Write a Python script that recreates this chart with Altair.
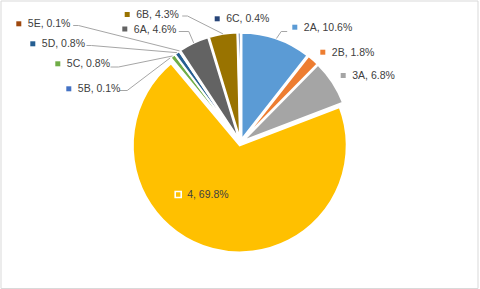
import math
import pandas as pd
import altair as alt

# ---- data ----
categories = ["2A", "2B", "3A", "4", "5B", "5C", "5D", "5E", "6A", "6B", "6C"]
shares = [10.6, 1.8, 6.8, 69.8, 0.1, 0.8, 0.8, 0.1, 4.6, 4.3, 0.4]
colors = ["#5B9BD5", "#ED7D31", "#A5A5A5", "#FFC000", "#4472C4", "#70AD47",
          "#255E91", "#9E480E", "#636363", "#997300", "#264478"]

# ---- layout (pixel space of the canvas) ----
W, H = 477, 287.5
CX, CY, R, EXPLODE = 240, 142, 107, 3
# label marker positions (Excel data-label placement)
label_mx = [294.3, 322.3, 342.7, 177.7, 68.3, 57.3, 32.3, 18.3, 124.3, 126.7, 216.7]
label_my = [26.7, 51.7, 75.0, 194.0, 88.3, 63.3, 43.3, 23.3, 28.5, 14.0, 18.3]
# leader lines: label-side end and elbow
leader_end = {"2A": (286.7, 31), "6B": (181.7, 15.5), "6A": (178.3, 31),
              "5E": (72.7, 25), "5D": (86, 45), "5C": (110, 66.5), "5B": (119.3, 90)}
leader_elbow = {"2A": (280.7, 31), "6B": (187, 15.5), "6A": (188.3, 31),
                "5E": (78, 25), "5D": (91, 45), "5C": (118, 66.5), "5B": (126.7, 90)}

total = sum(shares)
rows, line_rows = [], []
acc = 0.0
for cat, s, col, mx, my in zip(categories, shares, colors, label_mx, label_my):
    t0 = acc / total * 2 * math.pi
    t1 = (acc + s) / total * 2 * math.pi
    acc += s
    mid = (t0 + t1) / 2
    ox = CX + EXPLODE * math.sin(mid)
    oy = CY - EXPLODE * math.cos(mid)
    px = ox + R * math.sin(mid)
    py = oy - R * math.cos(mid)
    rows.append(dict(cat=cat, share=s, t0=t0, t1=t1, x=ox, y=oy, color=col,
                     mx=mx, my=my, label=f"{cat}, {s}%"))
    if cat in leader_end:
        ex, ey = leader_end[cat]
        bx, by = leader_elbow[cat]
        line_rows += [dict(key=cat, o=0, x=ex, y=ey),
                      dict(key=cat, o=1, x=bx, y=by),
                      dict(key=cat, o=2, x=px, y=py)]

df = pd.DataFrame(rows)
dl = pd.DataFrame(line_rows)

xs = alt.Scale(domain=[0, W], nice=False, zero=False)
ys = alt.Scale(domain=[0, H], nice=False, zero=False, reverse=True)

base = alt.Chart(df)

arcs = base.mark_arc(outerRadius=R, stroke="white", strokeWidth=2).encode(
    x=alt.X("x:Q", scale=xs, axis=None),
    y=alt.Y("y:Q", scale=ys, axis=None),
    theta=alt.Theta("t0:Q", scale=None),
    theta2="t1:Q",
    color=alt.Color("color:N", scale=None),
)

lines = alt.Chart(dl).mark_line(color="#a6a6a6", strokeWidth=1).encode(
    x=alt.X("x:Q", scale=xs, axis=None),
    y=alt.Y("y:Q", scale=ys, axis=None),
    detail="key:N",
    order="o:Q",
)

markers = base.transform_filter("datum.cat != '4'").mark_square(
    size=25, filled=True, opacity=1).encode(
    x=alt.X("mx:Q", scale=xs, axis=None),
    y=alt.Y("my:Q", scale=ys, axis=None),
    color=alt.Color("color:N", scale=None),
)

marker4 = base.transform_filter("datum.cat == '4'").mark_square(
    size=36, filled=True, opacity=1, stroke="white", strokeWidth=1.6).encode(
    x=alt.X("mx:Q", scale=xs, axis=None),
    y=alt.Y("my:Q", scale=ys, axis=None),
    color=alt.Color("color:N", scale=None),
)

texts = base.mark_text(align="left", baseline="middle", dx=9, dy=0.5,
                       font="Liberation Sans", fontSize=10.5,
                       color="#404040").encode(
    x=alt.X("mx:Q", scale=xs, axis=None),
    y=alt.Y("my:Q", scale=ys, axis=None),
    text="label:N",
)

chart = alt.layer(arcs, lines, markers, marker4, texts).properties(
    width=W, height=H,
    autosize=alt.AutoSizeParams(type="none"),
    padding={"left": 0.5, "top": 0.5, "right": 2.5, "bottom": 1},
    background="white",
).configure_view(stroke="#d9d9d9", strokeWidth=1)

chart.save("out.html", embed_options={"renderer": "svg", "actions": False})
